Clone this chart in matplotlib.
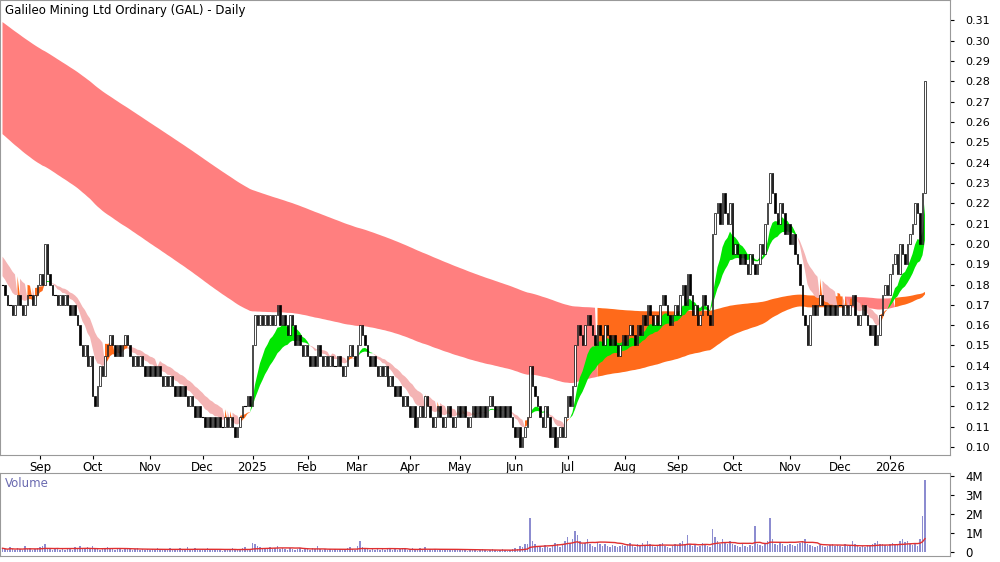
import numpy as np
import pandas as pd
import matplotlib
matplotlib.use("Agg")
import matplotlib.pyplot as plt

# ---------------- data ----------------
month_labels = ["Aug", "Sep", "Oct", "Nov", "Dec", "2025", "Feb", "Mar", "Apr", "May", "Jun",
                "Jul", "Aug", "Sep", "Oct", "Nov", "Dec", "2026"]
close_by_month = [
    [180,175,170,170,165,170,175,170,165,170,175,175,170,175,180],
    [185,180,200,185,180,175,175,170,175,170,175,170,165,170,165,160,150,145,150,140,145],
    [125,120,130,140,135,145,150,155,150,145,150,145,150,155,150,145,140,145,140,145,140,135,140],
    [135,140,135,140,135,130,135,130,135,130,125,130,125,130,125,120,125,120,115,120,115],
    [115,110,115,110,115,110,115,110,110,115,110,115,110,105,110,115,120,120,125,120],
    [150,165,160,165,160,165,160,165,160,165,170,160,165,160,155,165,160,150,155,150,145,150],
    [145,140,145,140,150,145,140,145,140,145,140,140,145,140,135,140,145,150,145,140],
    [150,160,155,150,145,140,145,140,135,140,135,140,130,135,130,125,130,125,120,125,120],
    [115,120,110,115,120,115,125,120,115,110,115,120,115,110,115,120,115,110,115,120],
    [115,120,115,110,115,120,115,120,115,120,115,120,125,120,115,120,115,120,115,120,115,110],
    [105,110,100,105,110,115,140,130,125,120,115,110,120,115,105,110,100,105,110,105,115],
    [125,120,130,150,160,155,150,160,165,160,155,150,160,155,150,160,155,150,155,150,145,150,155],
    [150,155,160,155,150,160,155,165,160,170,165,160,165,160,170,175,170,165,160,165,170],
    [165,175,180,170,185,175,165,170,160,165,175,170,165,160,205,215,220,210,225,215,210,220],
    [195,200,195,190,195,190,185,195,190,185,190,200,195,210,220,235,225,215,210,220,215,205,210],
    [200,205,195,190,180,165,160,150,165,170,165,170,175,170,165,170,165,170,165,170],
    [170,165,170,165,170,175,165,160,165,170,165,160,155,160,150,155,165,175,180,175],
    [185,190,195,185,200,195,190,200,205,210,220,215,200,225,280],
]
volume_by_month = [  # units of 10k shares
    [20,15,10,25,15,10,20,15,10,30,15,20,10,15,20],
    [25,30,40,20,15,10,15,20,10,15,10,20,15,10,25,20,30,15,20,25,15],
    [30,20,15,10,20,15,25,20,15,10,15,20,10,15,20,15,10,15,20,10,15,10,15],
    [10,15,10,20,15,10,15,10,20,15,10,15,20,15,10,25,15,10,20,15,10],
    [15,10,20,10,15,10,15,10,5,10,15,10,20,15,10,15,20,25,15,10],
    [50,40,30,25,20,15,20,25,15,20,30,15,20,15,10,20,15,10,15,20,10,15],
    [15,10,20,15,30,15,10,15,10,15,10,15,10,15,10,15,20,25,15,10],
    [30,60,25,20,15,10,15,10,15,10,15,10,20,15,10,15,10,15,20,15,10],
    [15,20,10,15,20,15,25,10,15,10,15,10,15,10,15,10,15,10,15,10],
    [10,15,10,5,10,15,10,5,10,15,10,5,10,15,10,5,10,15,10,5,10,15],
    [20,15,30,25,40,45,180,60,40,30,25,20,35,25,20,30,50,40,25,45,60],
    [80,50,70,110,90,60,40,50,70,40,30,25,50,40,30,45,30,25,35,30,25,30,35],
    [30,40,50,35,25,40,30,50,35,60,40,30,25,35,45,50,30,25,20,30,40],
    [35,50,60,40,90,45,30,35,25,30,50,40,30,25,120,80,60,40,70,50,40,60],
    [40,35,30,25,40,30,25,35,30,140,40,35,30,50,60,180,70,40,35,50,40,30,35],
    [40,35,30,45,50,60,70,40,35,30,25,30,35,30,25,30,35,40,30,35],
    [30,25,40,30,35,60,40,30,25,30,25,35,30,40,50,60,45,40,35,30],
    [40,50,45,35,60,70,55,60,40,35,45,30,70,190,380],
]
first_open = 0.180
short_seed = (0.185, 0.195)   # fast, slow EMA seeds
long_seed = (0.255, 0.31)
short_periods = (10, 22)
long_periods = (150, 300)

# ---------------- derived ----------------
close = np.concatenate([np.array(m) for m in close_by_month]) / 1000.0
vol = np.concatenate([np.array(m) for m in volume_by_month]) / 100.0  # millions
n = min(len(close), len(vol))
close = close[:n]; vol = vol[:n]
opn = np.concatenate([[first_open], close[:-1]])
x = np.arange(n)
starts = np.cumsum([0] + [len(m) for m in close_by_month])[:-1]

def ema(vals, period, seed):
    a = 2.0 / (period + 1)
    out = np.empty(len(vals)); e = seed
    for i, v in enumerate(vals):
        e = e + a * (v - e); out[i] = e
    return out

sf = ema(close, short_periods[0], short_seed[0]); ss = ema(close, short_periods[1], short_seed[1])
lf = ema(close, long_periods[0], long_seed[0]); ls = ema(close, long_periods[1], long_seed[1])

fig = plt.figure(figsize=(10, 5.62), dpi=100)
ax = fig.add_axes([0.0, 0.19, 0.95, 0.81])
axv = fig.add_axes([0.0, 0.011, 0.95, 0.148])

# long ribbon
lo_l = np.minimum(lf, ls); hi_l = np.maximum(lf, ls)
lag = 20
lf_prev = np.concatenate([np.full(lag, lf[0] + 1), lf[:-lag]])
red = (lf - lf_prev) < 0
grn = (~red) & (lf > ls)
orng = (~red) & (~grn)
for mask, col in [(red, "#FF7F7F"), (orng, "#FF6A1A"), (grn, "#33AA66")]:
    ax.fill_between(x, lo_l, hi_l, where=mask, color=col, lw=0, interpolate=True, zorder=1)
# short ribbon
lo_s = np.minimum(sf, ss); hi_s = np.maximum(sf, ss)
g = sf > ss
o = (~g) & (close >= sf)
p = (~g) & (~o)
for mask, col in [(g, "#00E600"), (o, "#FF6A1A"), (p, "#F4B4B4")]:
    ax.fill_between(x, lo_s, hi_s, where=mask, color=col, lw=0, interpolate=True, zorder=2)

# candles
bw = 0.6
for i in range(n):
    lo, hi = min(opn[i], close[i]), max(opn[i], close[i])
    if hi - lo < 1e-9:
        ax.plot([i - bw/2, i + bw/2], [lo, lo], color="black", lw=0.8, zorder=3)
        continue
    up = close[i] > opn[i]
    ax.add_patch(plt.Rectangle((i - bw/2, lo), bw, hi - lo, facecolor="white" if up else "black",
                               edgecolor="black", lw=0.5, zorder=3))

ax.set_xlim(-1, 379)
ax.set_ylim(0.096, 0.320)
ax.yaxis.tick_right()
ax.set_yticks(np.arange(0.10, 0.315, 0.01))
ax.set_yticklabels([f"{v:.2f}" for v in np.arange(0.10, 0.315, 0.01)], fontsize=8)
ax.tick_params(axis="y", direction="out", length=3, pad=8)
ax.set_xticks(starts[1:])
ax.set_xticklabels(month_labels[1:], fontsize=8.5)
ax.tick_params(axis="x", length=3, pad=1)
for s in ax.spines.values():
    s.set_color("#999999")
ax.text(0.005, 0.992, "Galileo Mining Ltd Ordinary (GAL) - Daily", transform=ax.transAxes,
        fontsize=8.5, va="top", ha="left")

axv.bar(x, vol, width=0.5, color="#8C8CD0", zorder=2)
vma = pd.Series(vol).rolling(20, min_periods=1).mean().values
axv.plot(x, vma, color="#E03030", lw=1, zorder=3)
axv.set_xlim(-1, 379)
axv.set_ylim(-0.2, 4.2)
axv.yaxis.tick_right()
axv.set_yticks([0, 1, 2, 3, 4])
axv.set_yticklabels(["0", "1M", "2M", "3M", "4M"], fontsize=8.5)
axv.tick_params(axis="y", length=3, pad=8)
axv.set_xticks(starts[1:]); axv.set_xticklabels([])
axv.tick_params(axis="x", length=0)
for s in axv.spines.values():
    s.set_color("#999999")
axv.text(0.005, 0.95, "Volume", transform=axv.transAxes, fontsize=8.5, va="top",
         color="#6A6AB0")

fig.savefig("out.png", dpi=100)
